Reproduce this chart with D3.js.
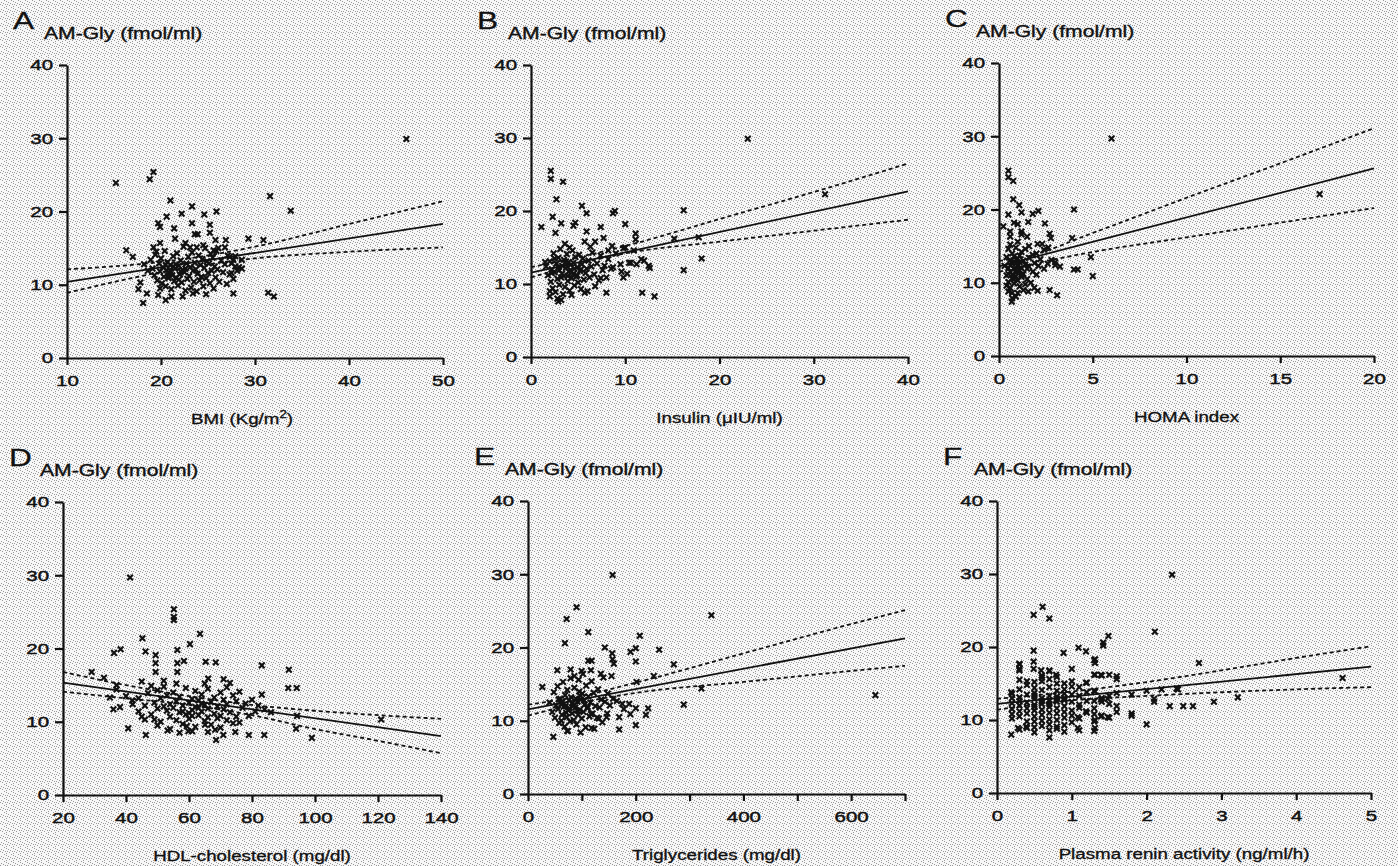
<!DOCTYPE html>
<html>
<head>
<meta charset="utf-8">
<script src="https://cdn.jsdelivr.net/npm/d3@7"></script>
<style>
body { margin: 0; background: #fff; }
svg { display: block; }
</style>
</head>
<body>
<div id="chart"></div>
<script>
// ---- data ----
var yTicks = [0, 10, 20, 30, 40];
var yTitle = 'AM-Gly (fmol/ml)';

// A: BMI
var bmiTicks = [10, 20, 30, 40, 50];
var bmiPoints = [[15.2,23.9],[19.2,25.4],[18.8,24.4],[21.0,21.5],[23.3,20.7],[22.2,19.7],[24.6,19.6],[25.9,20.0],[20.6,19.3],[19.7,18.4],[19.9,17.9],[23.3,18.4],[21.4,17.7],[23.6,16.9],[23.9,16.9],[25.2,18.2],[25.2,17.1],[21.5,16.3],[25.8,16.1],[26.9,16.1],[29.3,16.3],[30.9,16.1],[31.6,22.1],[33.8,20.1],[46.1,29.9],[16.3,14.7],[17.0,13.8],[19.9,15.7],[19.2,15.1],[19.5,14.5],[22.6,15.7],[23.1,15.1],[23.8,15.1],[24.5,15.4],[25.6,14.7],[26.1,15.0],[26.8,15.1],[27.3,13.8],[27.7,13.4],[27.9,12.5],[28.6,13.4],[28.6,12.2],[27.5,11.6],[27.7,8.8],[31.4,8.9],[32.0,8.4],[17.8,10.3],[17.6,9.4],[18.5,8.8],[18.1,7.5],[20.5,7.9],[21.1,8.4],[22.3,8.4],[23.4,8.8],[24.8,8.7],[19.9,9.5],[19.7,8.6],
  [18.2,12.8],[18.6,11.9],[18.9,13.4],[19.1,12.2],[19.3,11.3],[19.4,14.1],[19.6,10.6],[19.8,12.9],[19.9,11.8],[20.0,13.6],[20.1,10.2],[20.2,12.4],[20.3,11.1],[20.4,14.6],[20.5,9.8],[20.6,12.0],[20.7,13.1],[20.8,10.9],[20.9,11.6],[21.0,12.7],[21.1,9.4],[21.2,11.3],[21.3,13.9],[21.4,10.5],[21.5,12.2],[21.6,11.0],[21.7,14.3],[21.8,9.9],[21.9,12.6],[22.0,11.4],[22.1,13.3],[22.2,10.3],[22.3,12.0],[22.4,15.2],[22.5,11.7],[22.6,9.2],[22.7,12.9],[22.8,10.8],[22.9,13.8],[23.0,11.2],[23.1,12.4],[23.2,9.6],[23.3,14.4],[23.4,11.9],[23.5,10.4],[23.6,13.0],[23.7,12.1],[23.8,9.1],[23.9,11.5],[24.0,14.0],[24.1,10.6],[24.2,12.7],[24.3,11.1],[24.4,13.5],[24.5,9.8],[24.6,12.3],[24.7,15.0],[24.8,10.9],[24.9,13.2],[25.0,11.6],[25.1,12.9],[25.2,10.2],[25.3,14.2],[25.4,11.9],[25.5,13.7],[25.6,9.5],[25.7,12.5],[25.8,11.0],[25.9,14.6],[26.0,12.1],[26.2,10.4],[26.4,13.3],[26.6,11.7],[26.8,12.8],[27.0,10.1],[27.1,14.0],[27.3,11.4],[27.5,12.9],[27.7,10.8],[27.9,13.9],[28.1,11.9],[28.3,12.4],[21.0,11.9],[21.3,12.5],[20.8,11.3],[21.6,12.8],[22.1,11.8],[20.5,12.7],[21.9,10.7],[22.6,12.2]];
var bmiFit = [[10, 10.4], [50, 18.3]];
var bmiUpper = [[10,12.1],[23,13.6],[30,15.2],[40,18.3],[50,21.4]];
var bmiLower = [[10,8.9],[23,12.4],[30,13.6],[40,14.5],[50,15.1]];

// B: insulin
var insTicks = [0, 10, 20, 30, 40];
var insPoints = [[2.1,25.5],[2.1,24.4],[3.4,24.0],[2.7,21.6],[5.4,20.7],[5.9,19.7],[2.3,19.2],[8.7,19.7],[8.9,20.0],[16.2,20.1],[3.2,18.3],[4.7,18.4],[4.5,18.0],[1.1,17.8],[7.4,17.8],[10.0,18.2],[2.6,17.0],[5.9,17.2],[6.8,15.8],[7.7,16.3],[11.1,16.9],[11.1,16.1],[8.6,15.2],[8.2,14.6],[9.8,14.9],[15.2,16.2],[18.1,13.5],[16.2,11.9],[11.7,13.4],[11.2,12.7],[10.4,12.9],[12.5,12.5],[9.6,11.7],[9.8,10.9],[8.7,12.3],[8.0,8.8],[11.8,8.8],[13.1,8.3],[7.4,10.8],[5.7,8.8],[4.3,8.5],[2.9,7.6],[2.0,8.3],[23.0,29.9],[31.2,22.3],[17.8,16.4],
  [1.6,12.4],[1.8,11.2],[2.0,13.1],[2.1,10.3],[2.2,12.0],[2.3,9.4],[2.4,14.2],[2.5,11.6],[2.6,8.9],[2.7,12.8],[2.8,10.7],[2.9,13.6],[3.0,9.9],[3.0,11.9],[3.1,14.8],[3.2,10.9],[3.3,12.5],[3.4,8.6],[3.5,13.3],[3.5,11.1],[3.6,9.6],[3.7,12.2],[3.8,14.1],[3.9,10.4],[4.0,11.7],[4.0,13.0],[4.1,9.1],[4.2,12.6],[4.3,10.8],[4.4,14.6],[4.5,11.4],[4.5,12.9],[4.6,9.8],[4.7,13.7],[4.8,11.0],[4.9,12.3],[5.0,10.2],[5.1,14.0],[5.2,11.8],[5.3,9.3],[5.4,12.7],[5.5,13.5],[5.6,10.6],[5.8,11.5],[5.9,12.1],[6.0,9.0],[6.1,13.2],[6.2,10.9],[6.4,12.4],[6.5,14.3],[6.7,11.3],[6.8,9.7],[7.0,12.8],[7.2,10.5],[7.4,13.9],[7.6,11.9],[7.8,12.5],[8.0,10.9],[8.2,13.4],[8.5,12.1],[2.2,11.5],[2.5,13.5],[2.9,12.3],[3.3,11.4],[3.6,12.9],[3.9,11.1],[4.2,11.9],[4.6,12.1],[4.9,11.2],[5.3,12.0],[1.5,13.0],[2.0,9.0],[3.2,7.8],[2.8,8.0],[3.6,15.5],[4.1,15.0],[5.7,15.8],[6.3,15.1],[9.0,14.2],[9.5,12.7],[10.2,11.4],[10.6,12.9],[12.0,13.2],[12.6,12.2],[10.0,15.0],[10.9,14.6]];
var insFit = [[0, 11.55], [40, 22.7]];
var insUpper = [[0,12.3],[10,15.2],[20,18.9],[30,22.6],[40,26.5]];
var insLower = [[0,10.9],[10,14.2],[20,15.8],[30,17.3],[40,18.8]];

// C: HOMA index
var homaTicks = [0, 5, 10, 15, 20];
var homaPoints = [[0.5,25.3],[0.5,24.4],[0.76,23.9],[0.76,21.4],[1.08,20.6],[1.2,19.6],[0.5,19.3],[1.8,19.4],[2.1,19.8],[4.0,20.0],[0.8,18.2],[1.0,18.0],[1.56,18.3],[2.45,18.1],[0.23,17.7],[0.59,17.0],[1.2,17.0],[2.7,16.7],[2.77,16.1],[3.9,16.1],[2.06,15.3],[2.63,14.8],[2.4,14.5],[4.9,13.5],[4.0,11.8],[4.2,11.8],[5.0,10.9],[3.25,12.2],[3.0,12.4],[2.7,9.0],[3.1,8.3],[2.06,8.9],[1.56,8.8],[1.88,9.3],[0.68,7.4],[6.0,29.7],[17.1,22.1],
  [0.3,12.3],[0.4,13.5],[0.4,11.0],[0.5,14.6],[0.5,12.0],[0.5,10.1],[0.6,13.1],[0.6,11.5],[0.6,9.3],[0.6,15.2],[0.7,12.6],[0.7,10.6],[0.7,14.0],[0.7,8.6],[0.8,11.9],[0.8,13.6],[0.8,9.9],[0.8,12.9],[0.9,10.9],[0.9,14.8],[0.9,11.4],[0.9,8.1],[1.0,12.3],[1.0,13.3],[1.0,10.3],[1.0,15.6],[1.1,11.7],[1.1,9.5],[1.1,12.8],[1.2,14.2],[1.2,10.8],[1.2,12.0],[1.3,13.0],[1.3,11.2],[1.3,9.0],[1.4,12.5],[1.4,14.6],[1.5,10.5],[1.5,11.9],[1.6,13.4],[1.6,12.2],[1.7,10.0],[1.8,11.5],[1.8,13.8],[1.9,12.7],[2.0,11.1],[2.1,12.3],[2.2,13.2],[2.4,11.9],[2.6,12.6],[2.8,13.1],[3.0,12.8],[0.5,11.2],[0.6,12.4],[0.7,11.1],[0.8,10.5],[0.9,12.6],[1.0,11.6],[1.1,13.7],[1.2,11.1],[0.4,9.6],[0.5,8.8],[0.7,7.9],[1.0,8.6],[1.4,9.8],[1.6,15.0],[1.5,16.3],[1.2,16.6],[0.6,16.3],[2.0,14.0],[2.3,15.3]];
var homaFit = [[0, 12.25], [20, 25.6]];
var homaUpper = [[0,13.0],[1.5,13.6],[5,16.8],[10,21.6],[15,26.3],[20,31.1]];
var homaLower = [[0,11.5],[1.5,12.4],[5,14.2],[10,16.2],[15,18.2],[20,20.2]];

// D: HDL-cholesterol
var hdlTicks = [20, 40, 60, 80, 100, 120, 140];
var hdlPoints = [[55.2,25.35],[55.2,24.3],[55.2,23.9],[63.5,22.0],[45.2,21.4],[60.3,20.6],[38.3,19.9],[36.2,19.4],[46.2,19.6],[49.4,19.1],[56.3,19.8],[58.4,18.3],[56.3,18.0],[65.3,18.2],[68.5,18.1],[83.1,17.7],[91.7,17.1],[49.4,18.0],[49.4,16.8],[56.3,16.8],[29.1,16.8],[33.0,16.0],[45.0,15.5],[66.1,15.9],[91.5,14.6],[94.2,14.6],[83.1,13.7],[37.0,15.0],[37.0,14.4],[34.9,13.3],[36.0,11.7],[38.1,12.0],[42.1,12.4],[59.3,9.4],[59.8,8.7],[65.1,9.6],[68.3,8.9],[70.9,8.2],
  [41.3,29.7],[121,10.3],[99,7.8],[94,9.05],[94.3,10.8],[68.6,7.5],[83.9,8.2],[79,8.2],[74.7,8.6],[46.3,8.2],[53.2,8.8],[40.7,9.1],
  [40,13.5],[42,12.9],[44,11.4],[45,10.7],[46,12.2],[47,13.9],[48,11.0],[49,12.6],[49,10.3],[50,14.3],[50,11.8],[51,13.2],[51,10.0],[52,12.1],[52,14.8],[53,11.5],[53,13.6],[54,10.7],[54,12.4],[55,11.9],[55,14.0],[56,10.2],[56,12.8],[57,11.3],[57,13.4],[58,9.7],[58,12.2],[59,11.0],[59,14.6],[60,12.6],[60,10.4],[61,13.1],[61,11.6],[62,9.3],[62,12.0],[62,14.2],[63,10.9],[63,12.9],[64,11.4],[64,13.7],[65,10.1],[65,12.3],[66,11.8],[66,14.5],[67,9.6],[67,12.7],[68,11.1],[68,13.3],[69,10.5],[69,12.1],[70,9.2],[70,14.0],[71,11.7],[71,13.0],[72,10.2],[72,12.4],[73,15.3],[73,11.3],[74,13.6],[74,9.8],[75,12.8],[75,10.7],[76,14.1],[77,11.9],[78,12.5],[79,10.8],[80,13.0],[81,11.4],[82,12.2],[84,11.7],[86,11.3],[58,11.4],[60,11.2],[61,10.8],[63,11.9],[64,12.5],[66,10.6],[65,15.2],[71,15.8],[72,14.7],[56,15.2],[52,15.6],[48,14.9],[44,13.2],[46,10.3],[50,9.5],[54,9.0],[57,8.5],[61,8.7],[66,8.6],[70,10.8],[76,9.9]];
var hdlFit = [[20, 15.33], [140, 8.05]];
var hdlUpper = [[20,16.8],[40,15.0],[60,13.5],[80,12.3],[100,11.5],[120,10.9],[140,10.4]];
var hdlLower = [[20,14.1],[40,13.2],[60,12.3],[80,10.9],[100,9.0],[120,7.4],[140,5.7]];

// E: triglycerides
var tgTicks = [0, 100, 200, 300, 400, 500, 600, 700];
var tgLabels = [0, 200, 400, 600];
var tgPoints = [[90.2,25.5],[71.7,23.9],[111.9,22.1],[68.6,20.6],[207.6,21.6],[142.7,20.0],[156.3,19.2],[157,18.4],[159.4,17.8],[190.3,19.4],[200.2,19.9],[200.2,18.1],[243.5,19.7],[270.7,17.7],[111.9,18.2],[118,18.2],[54.4,16.9],[79.1,17.0],[99.5,16.8],[116.8,16.9],[135.3,16.4],[26.6,14.6],[155.1,16.1],[233.6,16.1],[201.5,15.3],[187.9,12.3],[200.2,11.7],[223.1,11.7],[219.0,10.8],[289.2,12.2],[322,14.4],[131.6,10.3],[147.1,11.0],[169.3,10.5],[169.3,8.8],[200.2,9.4],[97.6,8.4],[118,9.0],[72.9,8.6],[47,7.8],[340.5,24.4],[645,13.5],[157,29.9],
  [40,12.5],[45,11.2],[48,13.9],[50,10.4],[52,12.1],[55,14.7],[56,11.6],[58,9.7],[60,13.0],[62,12.3],[63,10.8],[65,15.3],[66,11.9],[68,9.2],[69,13.5],[70,12.0],[72,10.5],[73,14.2],[75,11.4],[76,12.8],[78,9.9],[79,15.8],[80,13.2],[82,11.0],[83,12.4],[85,10.1],[86,14.5],[88,11.8],[89,13.0],[90,9.5],[92,12.6],[93,10.8],[95,14.0],[96,11.5],[98,12.9],[100,10.3],[101,13.7],[103,11.2],[105,12.2],[107,9.1],[108,14.8],[110,11.7],[112,13.3],[114,10.6],[116,12.5],[118,15.4],[120,11.0],[122,13.8],[125,12.0],[128,10.4],[130,14.3],[133,11.8],[136,12.9],[140,15.9],[143,12.6],[148,13.7],[152,12.1],[158,13.0],[165,12.7],[175,12.3],[57,12.9],[64,12.6],[71,11.1],[77,11.7],[84,12.0],[91,11.4],[97,13.4],[104,12.8],[111,11.9],[117,10.9],[94,15.6],[102,16.4],[86,16.1],[62,10.0],[74,8.6],[123,8.9],[138,9.8],[146,10.5],[178,11.6],[190,10.9]];
var tgFit = [[0, 11.56], [700, 21.25]];
var tgUpper = [[0,12.2],[100,13.4],[200,15.2],[400,19.2],[600,23.2],[700,25.1]];
var tgLower = [[0,10.7],[100,12.5],[200,13.8],[400,15.3],[600,16.8],[700,17.5]];

// F: plasma renin activity
var praTicks = [0, 1, 2, 3, 4, 5];
var praPoints = [[0.61,25.5],[0.49,24.4],[0.70,23.9],[1.49,21.5],[2.11,22.1],[1.42,20.6],[1.42,20.2],[1.09,19.9],[1.19,19.4],[0.89,19.2],[0.49,19.5],[0.49,18.0],[0.49,17.0],[1.31,18.3],[1.31,17.8],[0.30,17.7],[0.30,17.0],[0.59,16.8],[0.70,16.8],[1.0,17.0],[0.79,16.2],[1.31,16.2],[1.39,16.2],[1.60,16.0],[1.6,15.6],[1.19,15.1],[0.19,13.8],[1.31,13.9],[1.39,12.8],[1.48,12.9],[1.80,10.9],[1.8,10.6],[1.6,11.9],[2.10,12.9],[2.1,12.5],[2.31,11.9],[2.49,11.9],[2.62,11.9],[2.42,14.2],[1.31,10.0],[1.08,10.4],[1.19,11.2],[1.39,10.5],[1.48,10.4],[1.08,8.9],[1.31,8.9],[0.28,8.9],[0.39,9.1],[0.19,8.0],[2.34,29.9],[2.70,17.8],[4.62,15.75],[3.22,13.1],[2.90,12.5],[2.0,9.4],
  [0.2,13.0],[0.2,11.5],[0.2,10.8],[0.2,10.2],[0.2,12.3],[0.2,13.6],
  [0.3,15.5],[0.3,14.2],[0.3,13.1],[0.3,12.0],[0.3,11.2],[0.3,10.5],[0.3,16.8],[0.3,17.6],[0.3,8.7],[0.3,12.6],
  [0.4,14.8],[0.4,13.5],[0.4,12.4],[0.4,11.6],[0.4,10.9],[0.4,9.8],[0.4,8.9],[0.4,15.3],
  [0.5,15.2],[0.5,14.4],[0.5,13.7],[0.5,12.9],[0.5,12.1],[0.5,11.3],[0.5,10.5],[0.5,9.8],[0.5,9.0],[0.5,8.3],[0.5,13.3],[0.5,11.8],
  [0.6,16.1],[0.6,15.3],[0.6,14.1],[0.6,13.0],[0.6,12.2],[0.6,11.4],[0.6,10.7],[0.6,9.9],[0.6,9.2],[0.6,12.6],[0.6,15.8],
  [0.7,16.7],[0.7,15.6],[0.7,14.5],[0.7,13.3],[0.7,12.6],[0.7,11.8],[0.7,11.0],[0.7,10.1],[0.7,9.4],[0.7,8.6],[0.7,7.6],[0.7,12.2],
  [0.8,15.9],[0.8,15.0],[0.8,14.0],[0.8,13.2],[0.8,12.5],[0.8,11.6],[0.8,10.9],[0.8,10.0],[0.8,9.1],[0.8,8.8],[0.8,12.9],
  [0.9,15.0],[0.9,14.2],[0.9,13.6],[0.9,12.7],[0.9,11.9],[0.9,11.1],[0.9,10.3],[0.9,9.3],[0.9,8.4],[0.9,13.0],
  [1.0,15.3],[1.0,14.6],[1.0,13.5],[1.0,12.5],[1.0,11.3],[1.0,10.6],[1.0,9.7],
  [1.1,14.5],[1.1,13.3],[1.1,12.1],[1.1,11.7],[1.1,10.2],[1.1,8.6],
  [1.2,15.1],[1.2,13.8],[1.2,12.6],[1.2,11.0],
  [1.3,18.2],[1.3,16.2],[1.3,14.0],[1.3,12.6],[1.3,11.6],[1.3,10.8],[1.3,9.8],[1.3,8.5],
  [1.4,16.1],[1.4,13.0],[1.4,12.5],[1.4,10.6],
  [1.5,16.2],[1.5,13.3],[1.5,12.2],[1.5,10.3],
  [1.6,13.7],[1.6,11.1],[1.8,13.5],[2.0,14.0],[2.2,14.2],[2.4,14.3]];
var praFit = [[0, 12.2], [5, 17.3]];
var praUpper = [[0,12.9],[1,13.9],[2,15.2],[3,16.8],[4,18.5],[5,20.1]];
var praLower = [[0,11.4],[1,12.7],[2,13.3],[3,13.8],[4,14.2],[5,14.5]];

// ---- layout ----
var sx = 1.32; // scan is stretched sideways, text gets the same stretch
var font = '"Liberation Sans", Arial, Helvetica, sans-serif';
var ink = '#111';

var panels = [
  {letter: 'A', label: ['BMI (Kg/m', '2', ')'], domain: [10, 50], ticks: bmiTicks, points: bmiPoints, fit: bmiFit, upper: bmiUpper, lower: bmiLower, left: 67, right: 443, top: 65, bottom: 358, labelDx: -13},
  {letter: 'B', label: ['Insulin (\u03bcIU/ml)'], domain: [0, 40], ticks: insTicks, points: insPoints, fit: insFit, upper: insUpper, lower: insLower, left: 531, right: 908, top: 65, bottom: 357, labelDx: 0},
  {letter: 'C', label: ['HOMA index'], domain: [0, 20], ticks: homaTicks, points: homaPoints, fit: homaFit, upper: homaUpper, lower: homaLower, left: 999, right: 1374, top: 63, bottom: 356, labelDx: 0},
  {letter: 'D', label: ['HDL-cholesterol (mg/dl)'], domain: [20, 140], ticks: hdlTicks, points: hdlPoints, fit: hdlFit, upper: hdlUpper, lower: hdlLower, left: 63, right: 441, top: 502, bottom: 795, labelDx: 0},
  {letter: 'E', label: ['Triglycerides (mg/dl)'], domain: [0, 700], ticks: tgTicks, shown: tgLabels, points: tgPoints, fit: tgFit, upper: tgUpper, lower: tgLower, left: 528, right: 905, top: 501, bottom: 794, labelDx: 0},
  {letter: 'F', label: ['Plasma renin activity (ng/ml/h)'], domain: [0, 5], ticks: praTicks, points: praPoints, fit: praFit, upper: praUpper, lower: praLower, left: 997, right: 1371, top: 501, bottom: 793, labelDx: 0}
];

var svg = d3.select('#chart').append('svg')
    .attr('width', 1398)
    .attr('height', 866);

//speckled paper
var defs = svg.append('defs');
var grain = defs.append('pattern')
    .attr('id', 'grain')
    .attr('width', 7)
    .attr('height', 7)
    .attr('patternUnits', 'userSpaceOnUse');
grain.append('rect').attr('width', 7).attr('height', 7).attr('fill', '#f7f7f7');
[[1,2],[4,0],[5,4],[2,5],[6,6],[0,4],[3,3],[6,1]].forEach(function(d) {
    grain.append('rect').attr('x', d[0]).attr('y', d[1]).attr('width', 1).attr('height', 1).attr('fill', '#999');
});
svg.append('rect')
    .attr('width', 1398)
    .attr('height', 866)
    .attr('fill', 'url(#grain)');
//speckled paper

function cross(cx, cy, s) {
    return 'M' + (cx - s) + ',' + (cy - s) + 'L' + (cx + s) + ',' + (cy + s) +
           'M' + (cx - s) + ',' + (cy + s) + 'L' + (cx + s) + ',' + (cy - s);
}

// scanned type looks a bit heavier than plain Liberation Sans
function inked(sel, w) {
    return sel.attr('stroke', ink).attr('stroke-width', w).attr('paint-order', 'stroke');
}

panels.forEach(function(p) {
    var x = d3.scaleLinear().domain(p.domain).range([p.left, p.right]);
    var y = d3.scaleLinear().domain([0, 40]).range([p.bottom, p.top]);

    var g = svg.append('g').attr('class', 'panel');

    //axes
    var xAxis = g.append('g')
        .attr('transform', 'translate(0,' + p.bottom + ')')
        .call(d3.axisBottom(x)
            .tickValues(p.ticks)
            .tickFormat(function(d) { return (!p.shown || p.shown.indexOf(d) >= 0) ? d : ''; })
            .tickSize(7)
            .tickSizeOuter(0)
            .tickPadding(10));

    var yAxis = g.append('g')
        .attr('transform', 'translate(' + p.left + ',0)')
        .call(d3.axisLeft(y)
            .tickValues(yTicks)
            .tickSize(8)
            .tickSizeOuter(0)
            .tickPadding(6));

    g.selectAll('.domain').attr('stroke', ink).attr('stroke-width', 2.2);
    g.selectAll('.tick line').attr('stroke', ink).attr('stroke-width', 2.2);
    inked(g.selectAll('.tick text'), 0.45)
        .attr('font-family', font)
        .attr('font-size', 15.5)
        .attr('fill', ink);
    xAxis.selectAll('.tick text').attr('transform', 'scale(' + sx + ',1)');
    yAxis.selectAll('.tick text')
        .attr('x', -14 / sx)
        .attr('transform', 'scale(' + sx + ',1)');

    //regression + confidence band
    var line = d3.line().x(function(d) { return x(d[0]); }).y(function(d) { return y(d[1]); });
    var band = d3.line().curve(d3.curveMonotoneX).x(function(d) { return x(d[0]); }).y(function(d) { return y(d[1]); });

    g.append('path')
        .datum(p.fit)
        .attr('d', line)
        .attr('fill', 'none')
        .attr('stroke', ink)
        .attr('stroke-width', 1.8);

    [p.upper, p.lower].forEach(function(b) {
        g.append('path')
            .datum(b)
            .attr('d', band)
            .attr('fill', 'none')
            .attr('stroke', ink)
            .attr('stroke-width', 1.8)
            .attr('stroke-dasharray', '4,3');
    });

    //points
    g.append('g').selectAll('.pt')
        .data(p.points)
        .enter()
        .append('path')
        .attr('class', 'pt')
        .attr('d', function(d) { return cross(x(d[0]), y(d[1]), 2.8); })
        .attr('fill', 'none')
        .attr('stroke', ink)
        .attr('stroke-width', 2.1);

    //titles
    inked(g.append('text'), 0.3)
        .text(p.letter)
        .attr('font-family', font)
        .attr('font-size', 24)
        .attr('fill', ink)
        .attr('transform', 'translate(' + (p.left - 54) + ',' + (p.top - 36) + ') scale(' + sx + ',1)');

    inked(g.append('text'), 0.35)
        .text(yTitle)
        .attr('font-family', font)
        .attr('font-size', 16)
        .attr('fill', ink)
        .attr('transform', 'translate(' + (p.left - 23) + ',' + (p.top - 26) + ') scale(' + sx + ',1)');

    var xl = inked(g.append('text'), 0.3)
        .attr('font-family', font)
        .attr('font-size', 14.2)
        .attr('fill', ink)
        .attr('text-anchor', 'middle')
        .attr('transform', 'translate(' + ((p.left + p.right) / 2 + p.labelDx) + ',' + (p.bottom + 66) + ') scale(' + sx + ',1)');
    xl.append('tspan').text(p.label[0]);
    if (p.label.length > 1) {
        xl.append('tspan').text(p.label[1]).attr('font-size', 10).attr('dy', -6);
        xl.append('tspan').text(p.label[2]).attr('dy', 6);
    }
});
</script>
</body>
</html>
